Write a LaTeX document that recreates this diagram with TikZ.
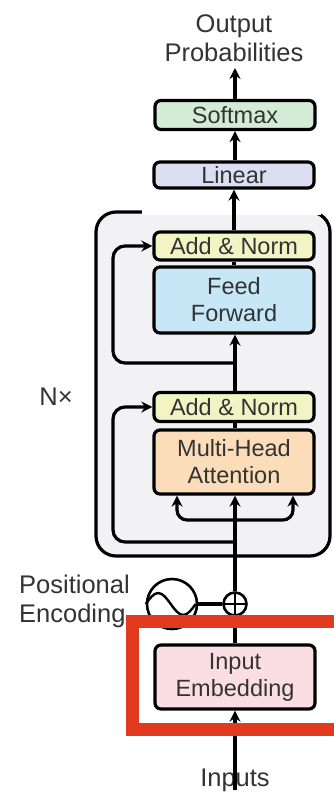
\documentclass[tikz,border=0pt]{standalone}
\usepackage{fontspec}
\setmainfont{Liberation Sans}
\usetikzlibrary{arrows.meta}
\definecolor{cSoft}{HTML}{D4ECD6}
\definecolor{cLin}{HTML}{DCDFF1}
\definecolor{cAdd}{HTML}{F2F4C4}
\definecolor{cFF}{HTML}{C7E7F6}
\definecolor{cMHA}{HTML}{FCDDB9}
\definecolor{cEmb}{HTML}{FBDEE3}
\definecolor{cBlock}{HTML}{F2F2F4}
\definecolor{cRed}{HTML}{E23A1E}
\definecolor{cText}{HTML}{333333}
\tikzset{
  blk/.style={draw=black, line width=3.2pt, rounded corners=6pt, minimum width=160pt, inner sep=0pt, align=center, text=cText, font=\fontsize{23.5}{27}\selectfont},
  lbl/.style={text=cText, font=\fontsize{25.5}{29}\selectfont, inner sep=0pt},
  conn/.style={line width=3.2pt, black},
  arr/.style={conn, -{Stealth[length=11pt,width=11pt]}},
}
\begin{document}
\begin{tikzpicture}[x=1pt,y=-1pt]
\useasboundingbox (0,0) rectangle (333,795);
% encoder block background
\draw[line width=3.2pt, fill=cBlock, rounded corners=20pt] (96,212) rectangle (330,556);
\fill[white] (142,200) rectangle (321,214.5);
% boxes
\node[blk, fill=cSoft, minimum height=29pt] (soft) at (235,115) {Softmax};
\node[blk, fill=cLin, minimum height=26pt] (lin) at (234,175) {Linear};
\node[blk, fill=cAdd, minimum height=28pt] (add2) at (234,246) {Add \& Norm};
\node[blk, fill=cFF, minimum height=66pt] (ff) at (234,300) {Feed\\Forward};
\node[blk, fill=cAdd, minimum height=29pt] (add1) at (234,407) {Add \& Norm};
\node[blk, fill=cMHA, minimum height=64pt] (mha) at (234,462) {Multi-Head\\Attention};
\node[blk, fill=cEmb, minimum height=64pt] (emb) at (235,677) {Input\\Embedding};
% labels
\node[lbl, align=center] (out) at (234,38) {Output\\Probabilities};
\node[lbl] (nx) at (56,397) {N×};
\node[lbl, align=left, anchor=west] (pe) at (19,601) {Positional\\Encoding};
\node[lbl] (inp) at (235,780) {Inputs};
\coordinate (outtip) at (235,68);
% positional encoding
\node[draw, circle, line width=2.6pt, minimum size=50pt, inner sep=0pt] (sine) at (172,604) {};
\node[draw, circle, line width=2.6pt, minimum size=23pt, inner sep=0pt, fill=white] (plus) at (235,604) {};
\draw[line width=2.4pt] ([yshift=-3pt]plus.north) -- ([yshift=3pt]plus.south);
\draw[line width=2.4pt] ([xshift=3pt]plus.west) -- ([xshift=-3pt]plus.east);
\draw[line width=2.4pt] (sine.west) sin ++(12.5,-11) cos ++(12.5,11) sin ++(12.5,11) cos ++(12.5,-11);
\draw[conn] (sine.east) -- (plus.west);
% connectors
\draw[arr] (soft.north) -- (outtip);
\draw[arr] (lin.north -| soft.north) -- (soft.south);
\draw[arr] (add2.north -| lin.north) -- (lin.south);
\draw[conn] (ff.north) -- (add2.south);
\coordinate (r2) at (235,363);
\coordinate (r1) at (235,542);
\coordinate (br) at (235,520);
\draw[arr] (add1.north -| r2) -- (ff.south -| r2);
\draw[arr, rounded corners=12pt] (r2) -- (113,363) -- (113,246) -- (add2.west);
\draw[conn] (mha.north -| r2) -- (add1.south -| r2);
\draw[arr, rounded corners=12pt] (r1) -- (113,542) -- (113,407) -- (add1.west);
\draw[arr] (plus.north) -- (mha.south -| plus.north);
\draw[arr, rounded corners=10pt] (br) -| ([xshift=-57pt]mha.south);
\draw[arr, rounded corners=10pt] (br) -| ([xshift=59pt]mha.south);
\draw[arr] (emb.north) -- (plus.south);
\draw[arr] ([yshift=-22pt]inp.north) -- (emb.south);
% highlight
\draw[cRed, line width=13pt] (132,621) rectangle (350,729);
\end{tikzpicture}
\end{document}
